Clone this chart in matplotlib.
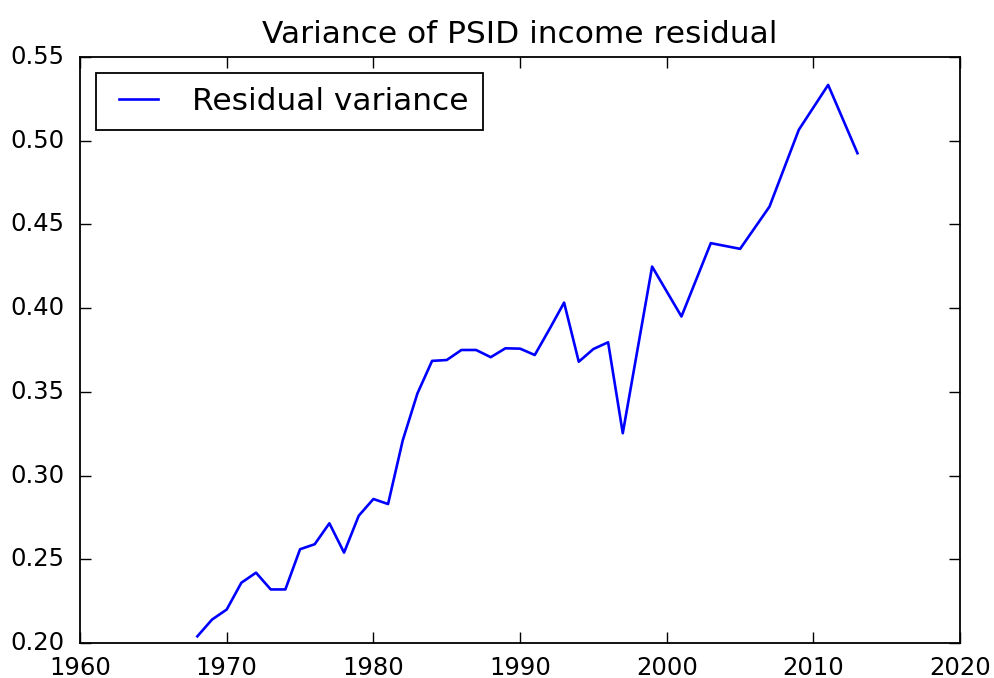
import matplotlib
matplotlib.use("Agg")
import matplotlib.pyplot as plt

years = [1968, 1969, 1970, 1971, 1972, 1973, 1974, 1975, 1976, 1977, 1978, 1979,
         1980, 1981, 1982, 1983, 1984, 1985, 1986, 1987, 1988, 1989, 1990, 1991,
         1992, 1993, 1994, 1995, 1996, 1997, 1999, 2001, 2003, 2005, 2007, 2009,
         2011, 2013]
variance = [0.204, 0.214, 0.220, 0.236, 0.242, 0.232, 0.232, 0.256, 0.259, 0.2715,
            0.254, 0.276, 0.286, 0.283, 0.321, 0.349, 0.3685, 0.369, 0.375, 0.375,
            0.3707, 0.376, 0.3758, 0.372, 0.3874, 0.4033, 0.368, 0.3756, 0.3796,
            0.3253, 0.4248, 0.395, 0.4388, 0.4354, 0.4606, 0.5065, 0.5333, 0.4925]
title = "Variance of PSID income residual"
series_label = "Residual variance"
xticks = [1960, 1970, 1980, 1990, 2000, 2010, 2020]
yticks = [0.20, 0.25, 0.30, 0.35, 0.40, 0.45, 0.50, 0.55]

plt.style.use("classic")
fig = plt.figure(figsize=(9.95, 6.78), dpi=100, facecolor="white")
ax = fig.add_axes([0.0804, 0.0516, 0.8846, 0.8644])
ax.plot(years, variance, color="blue", lw=1.9, label=series_label)
ax.set_xlim(1960, 2020)
ax.set_ylim(0.20, 0.55)
ax.set_xticks(xticks)
ax.set_xticklabels([str(v) for v in xticks])
ax.set_yticks(yticks)
ax.set_yticklabels(["%.2f" % v for v in yticks])
ax.tick_params(which="major", direction="in", length=8, width=1, labelsize=17.5)
ax.tick_params(axis="y", pad=11)
ax.tick_params(axis="x", pad=9)
ax.tick_params(which="minor", length=0)
for s in ax.spines.values():
    s.set_linewidth(1.3)
ax.set_title(title, fontsize=22.5, pad=10)
leg = ax.legend(loc="upper left", fontsize=22.5, frameon=True, fancybox=False,
                handlelength=1.85, borderpad=0.45)
leg.get_frame().set_linewidth(1.3)
leg.get_frame().set_edgecolor("black")
fig.savefig("out.png", dpi=100, facecolor="white")
